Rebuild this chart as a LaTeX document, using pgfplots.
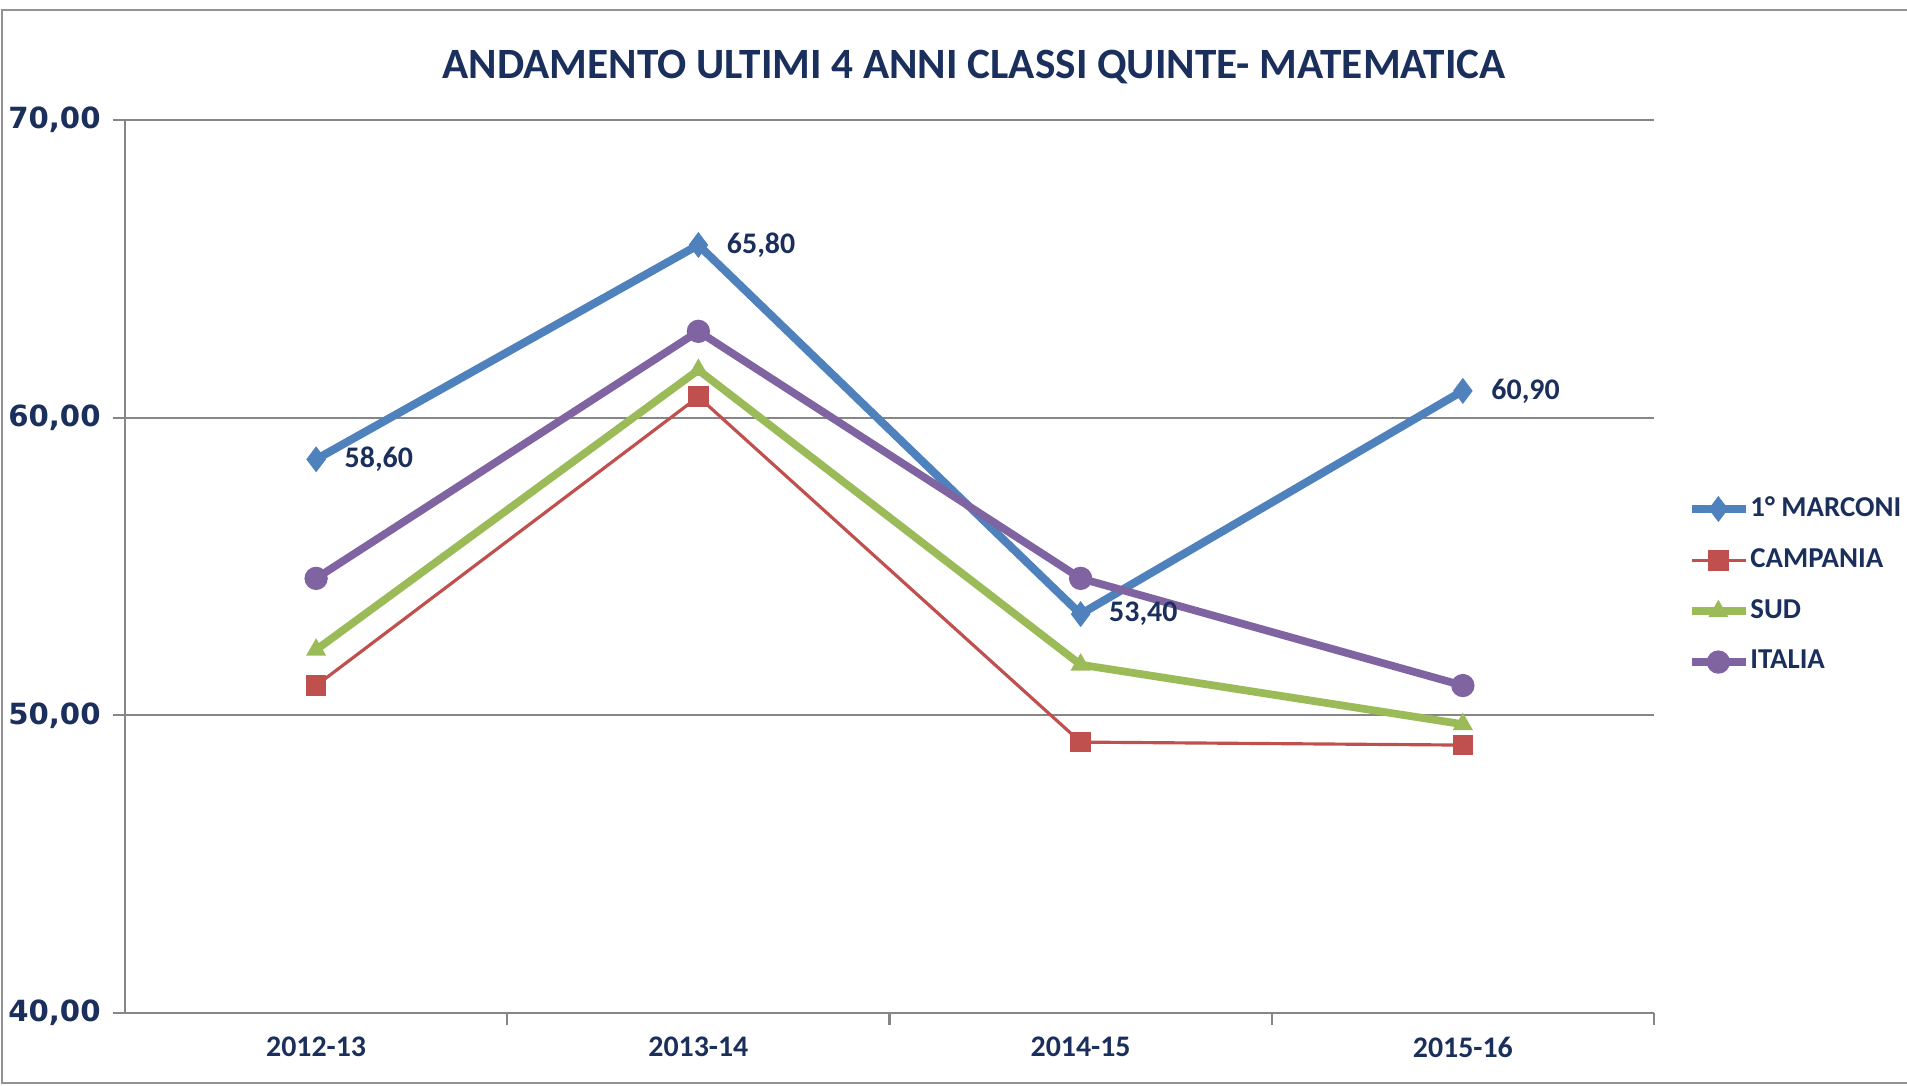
\documentclass[border=0pt]{standalone}
\usepackage{pgfplots}
\pgfplotsset{compat=1.18}
\usepackage{fontspec}
\setmainfont{Carlito}
\newfontfamily\dejavu{DejaVu Sans}
\definecolor{navy}{HTML}{1B2F5C}
\definecolor{cblue}{HTML}{4F81BD}
\definecolor{cred}{HTML}{C0504D}
\definecolor{cgreen}{HTML}{9BBB59}
\definecolor{cpurple}{HTML}{8064A2}
\definecolor{axgray}{HTML}{868686}
\begin{document}
\begin{tikzpicture}
\useasboundingbox (0,0) rectangle (190.7mm,108.6mm);
\draw[axgray!90, line width=0.8pt] (192mm,107.6mm) -- (0.2mm,107.6mm) -- (0.2mm,0.3mm) -- (192mm,0.3mm);
\node[font=\fontsize{12.3}{14}\selectfont\bfseries, text=navy] at (97.4mm,101.9mm) {ANDAMENTO ULTIMI 4 ANNI CLASSI QUINTE- MATEMATICA};
\begin{axis}[
  at={(12.5mm,7.3mm)}, anchor=south west,
  scale only axis, width=152.9mm, height=89.3mm,
  xmin=-0.5, xmax=3.5, ymin=40, ymax=70,
  xtick={0.5,1.5,2.5,3.5}, xticklabels={},
  extra x ticks={0,1,2,3},
  extra x tick labels={2012-13,2013-14,2014-15,2015-16},
  extra x tick style={major tick length=0pt},
  ytick={40,50,60,70},
  ymajorgrids, grid style={axgray, line width=0.6pt},
  axis lines*=left,
  axis line style={axgray, line width=0.8pt},
  tick style={axgray, line width=0.6pt},
  tick align=outside, major tick length=1.2mm,
  /pgf/number format/assume math mode=true,
  y tick label style={font=\dejavu\bfseries\fontsize{8.3}{9}\selectfont, text=navy,
    /pgf/number format/.cd, fixed, fixed zerofill, precision=2, use comma, 1000 sep={}},
  x tick label style={font=\bfseries\fontsize{8.5}{10}\selectfont, text=navy, yshift=-1.2mm},
  legend style={at={(1.022,0.479)}, anchor=west, draw=none, fill=none, inner sep=0pt,
    font=\bfseries\fontsize{8.2}{10}\selectfont, text=navy, row sep=2.25mm,
    nodes={inner xsep=0pt, inner ysep=0.6pt}},
  legend cell align=left,
  legend image code/.code={\draw[mark repeat=2,mark phase=2] plot coordinates {(0mm,0mm)(2.6mm,0mm)(5.4mm,0mm)};},
]
\addplot[cblue, line width=2.3pt, mark=diamond*, mark size=3.3pt, mark options={solid, fill=cblue, line width=0.5pt},
  nodes near coords={\pgfmathprintnumber[fixed,fixed zerofill,precision=2,use comma]{\pgfplotspointmeta}},
  every node near coord/.append style={anchor=west, xshift=1.6mm, yshift=0mm, font=\bfseries\fontsize{8.5}{10}\selectfont, text=navy}]
  coordinates {(0,58.6)(1,65.8)(2,53.4)(3,60.9)};
\addlegendentry{1° MARCONI}
\addplot[cred, line width=0.9pt, mark=square*, mark size=2.5pt, mark options={solid, fill=cred}]
  coordinates {(0,51.0)(1,60.7)(2,49.1)(3,49.0)};
\addlegendentry{CAMPANIA}
\addplot[cgreen, line width=2.2pt, mark=triangle*, mark size=2.8pt, mark options={solid, fill=cgreen, line width=0.5pt}]
  coordinates {(0,52.2)(1,61.6)(2,51.7)(3,49.7)};
\addlegendentry{SUD}
\addplot[cpurple, line width=2.2pt, mark=*, mark size=2.2pt, mark options={solid, fill=cpurple}]
  coordinates {(0,54.6)(1,62.9)(2,54.6)(3,51.0)};
\addlegendentry{ITALIA}
\end{axis}
\end{tikzpicture}
\end{document}
